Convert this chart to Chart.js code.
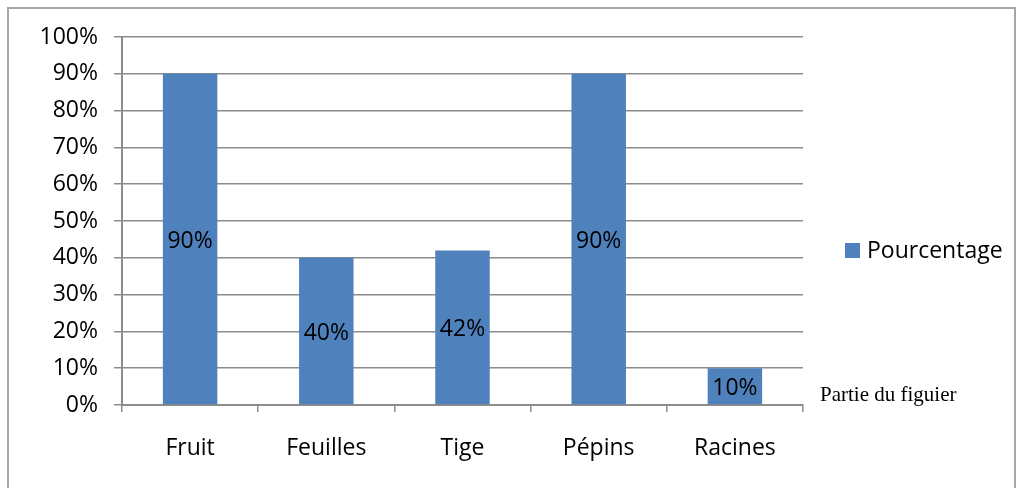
<!DOCTYPE html>
<html>
<head>
<meta charset="utf-8">
<script src="https://cdn.jsdelivr.net/npm/chart.js@4.4.1/dist/chart.umd.min.js"></script>
<style>
  html, body { margin: 0; padding: 0; background: #fff; }
  #wrap { position: relative; width: 1019px; height: 488px; overflow: hidden; }
  #frame { position: absolute; left: 7px; top: 7px; width: 1009px; height: 500px; border: 2px solid #a6a6a6; box-sizing: border-box; }
  canvas { position: absolute; left: 0; top: 0; }
</style>
</head>
<body>
<div id="wrap">
  <div id="frame"></div>
  <canvas id="chart" width="1019" height="488"></canvas>
</div>
<script>
// Données
const parties = ["Fruit", "Feuilles", "Tige", "Pépins", "Racines"];
const pourcentages = [90, 40, 42, 90, 10];
const serieNom = "Pourcentage";
const titreAxeX = "Partie du figuier";

const bleu = "#4f81bd";
const gris = "#8c8c8c";

// légende + titre d'axe dessinés à la main
const extras = {
  id: "extras",
  afterDraw(chart) {
    const c = chart.ctx;
    const area = chart.chartArea;
    c.save();
    // étiquettes dans les barres
    const meta = chart.getDatasetMeta(0);
    c.font = "23px 'Open Sans'";
    c.fillStyle = "#000";
    c.textAlign = "center";
    c.textBaseline = "middle";
    meta.data.forEach((bar, i) => {
      const mid = (bar.y + bar.base) / 2;
      c.fillText(pourcentages[i] + "%", bar.x, mid + 2);
    });
    // légende
    c.fillStyle = bleu;
    c.fillRect(845, 243, 15, 15);
    c.fillStyle = "#000";
    c.textAlign = "left";
    c.fillText(serieNom, 867, 251);
    // titre de l'axe x
    c.font = "21px 'Liberation Serif'";
    c.fillText(titreAxeX, area.right + 17, area.bottom - 10);
    c.restore();
  }
};

new Chart(document.getElementById("chart"), {
  type: "bar",
  data: {
    labels: parties,
    datasets: [{
      label: serieNom,
      data: pourcentages,
      backgroundColor: bleu,
      borderWidth: 0,
      barPercentage: 0.4,
      categoryPercentage: 1
    }]
  },
  options: {
    responsive: false,
    animation: false,
    layout: { padding: { left: 0, top: 37, right: 216, bottom: 0 } },
    plugins: {
      legend: { display: false },
      tooltip: { enabled: false }
    },
    scales: {
      x: {
        grid: { drawOnChartArea: false, drawTicks: true, tickLength: 7, color: gris, lineWidth: 1.5 },
        border: { color: gris, width: 2 },
        ticks: { color: "#000", font: { family: "'Open Sans'", size: 23 }, padding: 23 },
        afterFit: s => { s.height = 83; }
      },
      y: {
        min: 0,
        max: 100,
        grid: { color: gris, lineWidth: 1.5, tickLength: 8 },
        border: { color: gris, width: 2 },
        ticks: {
          stepSize: 10,
          color: "#000",
          font: { family: "'Open Sans'", size: 23 },
          padding: 16,
          callback: v => v + "%"
        },
        afterFit: s => { s.width = 122; }
      }
    }
  },
  plugins: [extras]
});
</script>
</body>
</html>
